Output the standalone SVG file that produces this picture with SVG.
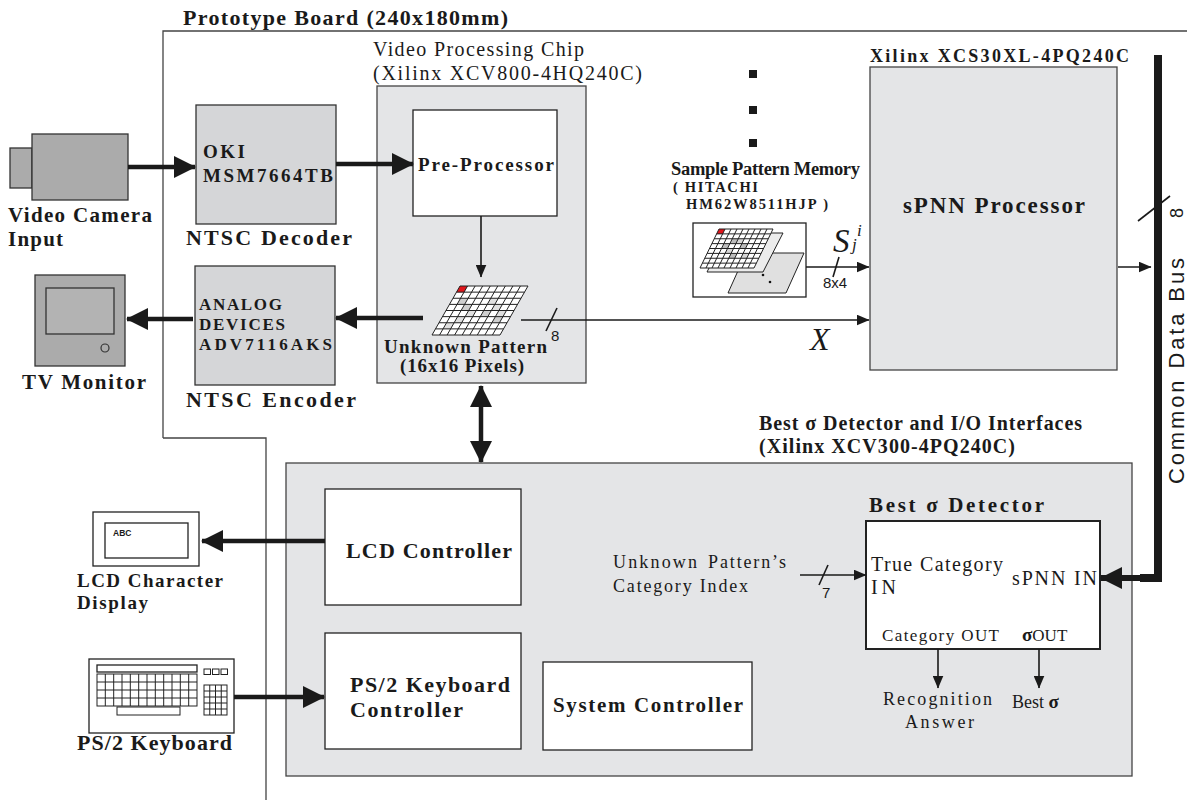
<svg xmlns="http://www.w3.org/2000/svg" width="1187" height="807" viewBox="0 0 1187 807">
  <style>
    .bold { font-family: "Liberation Serif", "Times New Roman", serif; font-weight: bold; fill: #1a1a1a; }
    .reg { font-family: "Liberation Serif", "Times New Roman", serif; fill: #1a1a1a; }
    .ital { font-family: "Liberation Serif", "Times New Roman", serif; font-style: italic; fill: #1a1a1a; }
    .sans { font-family: "Liberation Sans", Arial, sans-serif; fill: #1a1a1a; }
    .chip { fill: #d5d6d8; stroke: #333; stroke-width: 1.3; }
    .pale { fill: #e4e5e7; stroke: #444; stroke-width: 1.3; }
    .white { fill: #fff; stroke: #222; stroke-width: 1.3; }
    .device { fill: #ababab; stroke: #333; stroke-width: 1.3; }
    .thick { fill: none; stroke: #1a1a1a; stroke-width: 4.5; }
    .thin { fill: none; stroke: #1a1a1a; stroke-width: 1.6; }
    .grid { fill: none; stroke: #222; stroke-width: 1; vector-effect: non-scaling-stroke; }
  </style>
  <defs>
    <marker id="big" markerUnits="userSpaceOnUse" markerWidth="22" markerHeight="22" viewBox="0 0 22 22" refX="21" refY="11" orient="auto-start-reverse">
      <path d="M0,0 L22,11 L0,22 z" fill="#1a1a1a"/>
    </marker>
    <marker id="small" markerUnits="userSpaceOnUse" markerWidth="13" markerHeight="11" viewBox="0 0 13 11" refX="12.5" refY="5.5" orient="auto">
      <path d="M0,0 L13,5.5 L0,11 z" fill="#1a1a1a"/>
    </marker>
  </defs>

  <rect width="1187" height="807" fill="#fff"/>

  <!-- prototype board outline -->
  <g id="board">
    <path d="M163,438 V31 H1187 M163,438 H266 V800" fill="none" stroke="#444" stroke-width="1.3"/>
    <text class="bold" x="183" y="25" font-size="22" textLength="325" lengthAdjust="spacing">Prototype Board (240x180mm)</text>
  </g>

  <!-- video camera -->
  <g id="camera">
    <rect class="device" x="10" y="148" width="22" height="40"/>
    <rect class="device" x="32" y="134" width="96" height="66"/>
    <text class="bold" x="8" y="222" font-size="21" textLength="144" lengthAdjust="spacing">Video Camera</text>
    <text class="bold" x="8" y="246" font-size="21" textLength="55" lengthAdjust="spacing">Input</text>
  </g>

  <!-- NTSC decoder -->
  <g id="decoder">
    <rect class="chip" x="196" y="105" width="140" height="119"/>
    <text class="bold" x="203" y="158" font-size="19" textLength="42" lengthAdjust="spacing">OKI</text>
    <text class="bold" x="203" y="182" font-size="19" textLength="130" lengthAdjust="spacing">MSM7664TB</text>
    <text class="bold" x="186" y="245" font-size="22" textLength="166" lengthAdjust="spacing">NTSC Decoder</text>
  </g>

  <!-- TV monitor -->
  <g id="monitor">
    <rect class="device" x="35" y="275" width="90" height="91"/>
    <rect x="46" y="288" width="68" height="46" fill="#b3b3b3" stroke="#333" stroke-width="1.3"/>
    <circle cx="105" cy="348" r="4" fill="none" stroke="#333" stroke-width="1.2"/>
    <text class="bold" x="22" y="389" font-size="21" textLength="124" lengthAdjust="spacing">TV Monitor</text>
  </g>

  <!-- NTSC encoder -->
  <g id="encoder">
    <rect class="chip" x="195" y="266" width="140" height="119"/>
    <text class="bold" x="199" y="310" font-size="17" textLength="83" lengthAdjust="spacing">ANALOG</text>
    <text class="bold" x="199" y="330" font-size="17" textLength="86" lengthAdjust="spacing">DEVICES</text>
    <text class="bold" x="199" y="350" font-size="17" textLength="133" lengthAdjust="spacing">ADV7116AKS</text>
    <text class="bold" x="186" y="407" font-size="22" textLength="170" lengthAdjust="spacing">NTSC Encoder</text>
  </g>

  <!-- video processing chip -->
  <g id="video-chip">
    <text class="reg" x="373" y="56" font-size="20" textLength="211" lengthAdjust="spacing">Video Processing Chip</text>
    <text class="reg" x="373" y="80" font-size="20" textLength="269" lengthAdjust="spacing">(Xilinx XCV800-4HQ240C)</text>
    <rect class="pale" x="377" y="86" width="209" height="297"/>
  </g>

  <g id="pre-processor">
    <rect class="white" x="413" y="110" width="144" height="106"/>
    <text class="bold" x="418" y="171" font-size="19" textLength="136" lengthAdjust="spacing">Pre-Processor</text>
  </g>

  <!-- unknown pattern grid, drawn in cell units -->
  <g id="unknown-pattern">
    <g transform="matrix(7.556 0 -3.5 6.125 460 286)">
      <rect x="0" y="0" width="9" height="8" fill="#fff"/>
      <g fill="#cfcfcf">
        <rect x="1" y="2" width="1" height="1"/>
        <rect x="2" y="3" width="1" height="1"/>
        <rect x="5" y="2" width="1" height="1" fill="#e0e0e0"/>
        <rect x="6" y="3" width="1" height="1" fill="#e0e0e0"/>
        <rect x="3" y="4" width="1" height="1" fill="#e0e0e0"/>
        <rect x="5" y="4" width="1" height="1"/>
        <rect x="7" y="4" width="1" height="1" fill="#e0e0e0"/>
        <rect x="7" y="5" width="1" height="1"/>
        <rect x="2" y="5" width="1" height="1" fill="#e0e0e0"/>
        <rect x="1" y="6" width="1" height="1" fill="#e0e0e0"/>
      </g>
      <rect x="0" y="0" width="1" height="1" fill="#e0151b"/>
      <path class="grid" d="M0,0 H9 M0,1 H9 M0,2 H9 M0,3 H9 M0,4 H9 M0,5 H9 M0,6 H9 M0,7 H9 M0,8 H9 M0,0 V8 M1,0 V8 M2,0 V8 M3,0 V8 M4,0 V8 M5,0 V8 M6,0 V8 M7,0 V8 M8,0 V8 M9,0 V8"/>
    </g>
    <text class="bold" x="384" y="353" font-size="19" textLength="163" lengthAdjust="spacing">Unknown Pattern</text>
    <text class="bold" x="400" y="372" font-size="19" textLength="124" lengthAdjust="spacing">(16x16 Pixels)</text>
  </g>

  <!-- sample pattern memory -->
  <g id="sample-memory">
    <rect x="749" y="70" width="8" height="8" fill="#1a1a1a"/>
    <rect x="749" y="106" width="8" height="8" fill="#1a1a1a"/>
    <rect x="749" y="139" width="8" height="8" fill="#1a1a1a"/>
    <text class="bold" x="671" y="175" font-size="18.5" textLength="189" lengthAdjust="spacing">Sample Pattern Memory</text>
    <text class="bold" x="673" y="192" font-size="14.5" textLength="85" lengthAdjust="spacing">( HITACHI</text>
    <text class="bold" x="686" y="209" font-size="14.5" textLength="142" lengthAdjust="spacing">HM62W8511HJP )</text>
    <rect class="white" x="693" y="223" width="113" height="74"/>
    <polygon points="746,253 804,253 786,293 728,293" fill="#e0e0e0" stroke="#222" stroke-width="1"/>
    <circle cx="763" cy="275" r="1.3" fill="#111"/>
    <circle cx="770" cy="282" r="1.3" fill="#111"/>
    <polygon points="727,233 783,233 763,272 707,272" fill="#ececec" stroke="#222" stroke-width="1"/>
    <g transform="matrix(6 0 -2.375 4.875 719 229)">
      <rect x="0" y="0" width="9" height="8" fill="#fff"/>
      <g fill="#bdbdbd">
        <rect x="3" y="2" width="1" height="1"/>
        <rect x="4" y="2" width="1" height="1" fill="#d8d8d8"/>
        <rect x="5" y="3" width="1" height="1"/>
        <rect x="2" y="3" width="1" height="1"/>
        <rect x="3" y="4" width="1" height="1" fill="#d8d8d8"/>
        <rect x="4" y="5" width="1" height="1"/>
        <rect x="6" y="5" width="1" height="1" fill="#d8d8d8"/>
      </g>
      <rect x="0" y="0" width="1" height="1" fill="#e0151b"/>
      <path class="grid" d="M0,0 H9 M0,1 H9 M0,2 H9 M0,3 H9 M0,4 H9 M0,5 H9 M0,6 H9 M0,7 H9 M0,8 H9 M0,0 V8 M1,0 V8 M2,0 V8 M3,0 V8 M4,0 V8 M5,0 V8 M6,0 V8 M7,0 V8 M8,0 V8 M9,0 V8"/>
    </g>
  </g>

  <!-- sPNN processor -->
  <g id="spnn">
    <text class="bold" x="870" y="62" font-size="18" textLength="259" lengthAdjust="spacing">Xilinx XCS30XL-4PQ240C</text>
    <rect class="pale" x="870" y="67" width="247" height="303"/>
    <text class="bold" x="903" y="213" font-size="23" textLength="182" lengthAdjust="spacing">sPNN Processor</text>
  </g>

  <!-- I/O interface FPGA -->
  <g id="io-fpga">
    <text class="bold" x="759" y="430" font-size="20" textLength="323" lengthAdjust="spacing">Best σ Detector and I/O Interfaces</text>
    <text class="bold" x="759" y="453" font-size="20" textLength="256" lengthAdjust="spacing">(Xilinx XCV300-4PQ240C)</text>
    <rect class="pale" x="286" y="463" width="846" height="313"/>
  </g>

  <g id="lcd-controller">
    <rect class="white" x="325" y="489" width="196" height="116"/>
    <text class="bold" x="346" y="558" font-size="22" textLength="166" lengthAdjust="spacing">LCD Controller</text>
  </g>

  <g id="ps2-controller">
    <rect class="white" x="325" y="633" width="196" height="116"/>
    <text class="bold" x="350" y="692" font-size="22" textLength="160" lengthAdjust="spacing">PS/2 Keyboard</text>
    <text class="bold" x="350" y="717" font-size="22" textLength="113" lengthAdjust="spacing">Controller</text>
  </g>

  <g id="system-controller">
    <rect class="white" x="543" y="662" width="209" height="88"/>
    <text class="bold" x="553" y="712" font-size="21" textLength="190" lengthAdjust="spacing">System Controller</text>
  </g>

  <g id="category-index">
    <text class="reg" x="613" y="568" font-size="18"><tspan textLength="84" lengthAdjust="spacing">Unknown</tspan><tspan x="708" textLength="78" lengthAdjust="spacing">Pattern’s</tspan></text>
    <text class="reg" x="613" y="592" font-size="18" textLength="135" lengthAdjust="spacing">Category Index</text>
  </g>

  <g id="best-sigma-detector">
    <text class="bold" x="869" y="512" font-size="21" textLength="175" lengthAdjust="spacing">Best  σ  Detector</text>
    <rect x="866" y="521" width="234" height="128" fill="#fff" stroke="#222" stroke-width="2"/>
    <text class="reg" x="871" y="571" font-size="20" textLength="132" lengthAdjust="spacing">True Category</text>
    <text class="reg" x="871" y="594" font-size="20" textLength="25" lengthAdjust="spacing">IN</text>
    <text class="reg" x="1012" y="585" font-size="20" textLength="85" lengthAdjust="spacing">sPNN IN</text>
    <text class="reg" x="882" y="641" font-size="17" textLength="117" lengthAdjust="spacing">Category OUT</text>
    <text class="reg" x="1022" y="641" font-size="17"><tspan class="bold" font-size="19">σ</tspan>OUT</text>
  </g>

  <g id="outputs">
    <text class="reg" x="883" y="705" font-size="18" textLength="109" lengthAdjust="spacing">Recognition</text>
    <text class="reg" x="905" y="728" font-size="18" textLength="69" lengthAdjust="spacing">Answer</text>
    <text class="reg" x="1012" y="708" font-size="18">Best <tspan class="bold" font-size="19">σ</tspan></text>
  </g>

  <!-- LCD character display -->
  <g id="lcd-display">
    <rect class="white" x="93" y="512" width="106" height="54"/>
    <rect class="white" x="105" y="523" width="83" height="35"/>
    <text class="sans" x="113" y="536" font-size="8.5" font-weight="bold">ABC</text>
    <text class="bold" x="77" y="587" font-size="19" textLength="146" lengthAdjust="spacing">LCD Character</text>
    <text class="bold" x="77" y="609" font-size="19" textLength="71" lengthAdjust="spacing">Display</text>
  </g>

  <!-- PS/2 keyboard -->
  <g id="keyboard">
    <rect class="white" x="89" y="659" width="145" height="74"/>
    <rect class="white" x="97" y="665" width="100" height="7" stroke-width="1"/>
    <g class="grid">
      <rect x="97" y="674" width="100" height="32"/>
      <path d="M97,682 H197 M97,690 H197 M97,698 H197 M105.3,674 V706 M113.7,674 V706 M122,674 V706 M130.3,674 V706 M138.7,674 V706 M147,674 V706 M155.3,674 V706 M163.7,674 V706 M172,674 V706 M180.3,674 V706 M188.7,674 V706"/>
      <rect x="117" y="707" width="63" height="8"/>
      <rect x="204" y="669" width="6.5" height="5.5"/>
      <rect x="212.5" y="669" width="6.5" height="5.5"/>
      <rect x="221" y="669" width="6.5" height="5.5"/>
      <rect x="204" y="685" width="23" height="30"/>
      <path d="M204,691 H227 M204,697 H227 M204,703 H227 M204,709 H227 M209.75,685 V715 M215.5,685 V715 M221.25,685 V715"/>
    </g>
    <text class="bold" x="77" y="750" font-size="22" textLength="155" lengthAdjust="spacing">PS/2 Keyboard</text>
  </g>

  <!-- common data bus -->
  <g id="data-bus">
    <path d="M1158,55 V578 H1140" fill="none" stroke="#1a1a1a" stroke-width="8"/>
    <line x1="1150" y1="578" x2="1101" y2="578" stroke="#1a1a1a" stroke-width="6" marker-end="url(#big)"/>
    <line x1="1138" y1="221" x2="1170" y2="196" stroke="#1a1a1a" stroke-width="1.6"/>
    <text class="sans" transform="translate(1183,213) rotate(-90)" font-size="18" text-anchor="middle">8</text>
    <text class="sans" transform="translate(1184,484) rotate(-90)" font-size="22" textLength="226" lengthAdjust="spacing">Common Data Bus</text>
  </g>

  <!-- connectors -->
  <g id="connectors">
    <line class="thick" x1="128" y1="167" x2="195" y2="167" marker-end="url(#big)"/>
    <line class="thick" x1="336" y1="164" x2="413" y2="164" marker-end="url(#big)"/>
    <line class="thin" x1="481" y1="216" x2="481" y2="277" marker-end="url(#small)"/>
    <line class="thick" x1="423" y1="318" x2="336" y2="318" marker-end="url(#big)"/>
    <line class="thick" x1="193" y1="319" x2="127" y2="319" marker-end="url(#big)"/>
    <line class="thin" x1="521" y1="320" x2="869" y2="320" marker-end="url(#small)"/>
    <line class="thin" x1="546" y1="331" x2="557" y2="308"/>
    <text class="sans" x="551" y="341" font-size="15">8</text>
    <line class="thin" x1="806" y1="267" x2="869" y2="267" marker-end="url(#small)"/>
    <line class="thin" x1="833" y1="277" x2="839" y2="257"/>
    <text class="sans" x="823" y="288" font-size="15">8x4</text>
    <text class="ital" x="833" y="252" font-size="33">S</text>
    <text class="ital" x="857" y="236" font-size="17">i</text>
    <text class="ital" x="852" y="250" font-size="17">j</text>
    <text class="ital" x="810" y="350" font-size="32">X</text>
    <line class="thin" x1="1118" y1="267" x2="1151" y2="267" marker-end="url(#small)"/>
    <line class="thick" x1="481" y1="386" x2="481" y2="462" marker-start="url(#big)" marker-end="url(#big)"/>
    <line class="thick" x1="325" y1="541" x2="202" y2="541" marker-end="url(#big)"/>
    <line class="thick" x1="234" y1="697" x2="324" y2="697" marker-end="url(#big)"/>
    <line class="thin" x1="800" y1="575" x2="866" y2="575" marker-end="url(#small)"/>
    <line class="thin" x1="819" y1="585" x2="828" y2="565"/>
    <text class="sans" x="822" y="598" font-size="15">7</text>
    <line class="thin" x1="938" y1="649" x2="938" y2="688" marker-end="url(#small)"/>
    <line class="thin" x1="1039" y1="649" x2="1039" y2="688" marker-end="url(#small)"/>
  </g>
</svg>
